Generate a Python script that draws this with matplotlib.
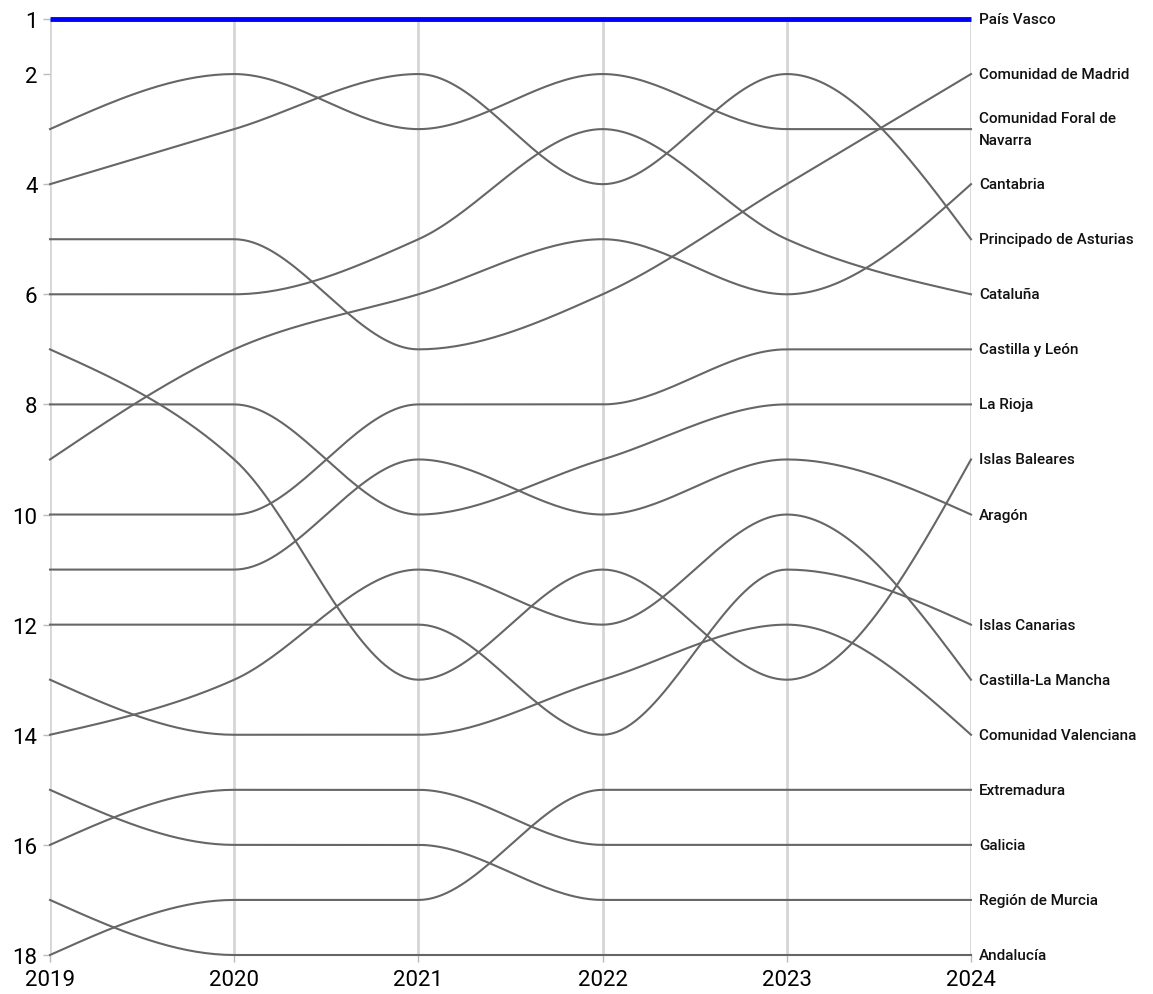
import matplotlib.pyplot as plt
import numpy as np

plt.rcParams['font.family'] = ['Roboto', 'DejaVu Sans']

# Años y posiciones en el ranking (1 = mejor)
years = [2019, 2020, 2021, 2022, 2023, 2024]

pais_vasco = [1, 1, 1, 1, 1, 1]
madrid = [5, 5, 7, 6, 4, 2]
navarra = [3, 2, 3, 2, 3, 3]
cantabria = [9, 7, 6, 5, 6, 4]
asturias = [4, 3, 2, 4, 2, 5]
cataluna = [6, 6, 5, 3, 5, 6]
castilla_leon = [10, 10, 8, 8, 7, 7]
la_rioja = [8, 8, 10, 9, 8, 8]
baleares = [7, 9, 13, 11, 13, 9]
aragon = [11, 11, 9, 10, 9, 10]
canarias = [12, 12, 12, 14, 11, 12]
castilla_mancha = [14, 13, 11, 12, 10, 13]
valenciana = [13, 14, 14, 13, 12, 14]
extremadura = [18, 17, 17, 15, 15, 15]
galicia = [16, 15, 15, 16, 16, 16]
murcia = [15, 16, 16, 17, 17, 17]
andalucia = [17, 18, 18, 18, 18, 18]

names = ['País Vasco', 'Comunidad de Madrid', 'Comunidad Foral de\nNavarra', 'Cantabria',
         'Principado de Asturias', 'Cataluña', 'Castilla y León', 'La Rioja', 'Islas Baleares',
         'Aragón', 'Islas Canarias', 'Castilla-La Mancha', 'Comunidad Valenciana',
         'Extremadura', 'Galicia', 'Región de Murcia', 'Andalucía']
series = [pais_vasco, madrid, navarra, cantabria, asturias, cataluna, castilla_leon, la_rioja,
          baleares, aragon, canarias, castilla_mancha, valenciana, extremadura, galicia,
          murcia, andalucia]


def monotone_x(x, y, steps=40):
    # curva monótona (como curveMonotoneX de d3)
    x = np.asarray(x, float)
    y = np.asarray(y, float)
    n = len(x)
    h = np.diff(x)
    s = np.diff(y) / h
    t = np.zeros(n)
    for i in range(1, n - 1):
        s0, s1 = s[i - 1], s[i]
        p = (s0 * h[i] + s1 * h[i - 1]) / (h[i - 1] + h[i])
        sg = (-1 if s0 < 0 else 1) + (-1 if s1 < 0 else 1)
        t[i] = sg * min(abs(s0), abs(s1), 0.5 * abs(p))
    t[0] = (3 * s[0] - t[1]) / 2
    t[-1] = (3 * s[-1] - t[-2]) / 2
    xs, ys = [], []
    u = np.linspace(0, 1, steps)
    for i in range(n - 1):
        dx = h[i] / 3
        p0 = (x[i], y[i])
        p1 = (x[i] + dx, y[i] + dx * t[i])
        p2 = (x[i + 1] - dx, y[i + 1] - dx * t[i + 1])
        p3 = (x[i + 1], y[i + 1])
        b = [(1 - u) ** 3, 3 * (1 - u) ** 2 * u, 3 * (1 - u) * u ** 2, u ** 3]
        xs.append(b[0] * p0[0] + b[1] * p1[0] + b[2] * p2[0] + b[3] * p3[0])
        ys.append(b[0] * p0[1] + b[1] * p1[1] + b[2] * p2[1] + b[3] * p3[1])
    return np.concatenate(xs), np.concatenate(ys)


fig = plt.figure(figsize=(11.53, 9.95), dpi=100)
ax = fig.add_axes([50 / 1153, 1 - 956 / 995, 921 / 1153, 936 / 995])

for name, ranks in zip(names, series):
    cx, cy = monotone_x(years, ranks)
    if name == 'País Vasco':
        ax.plot(cx, cy, color='#0000ff', lw=3.5, zorder=4, clip_on=False, solid_capstyle='butt')
    else:
        ax.plot(cx, cy, color='#666666', lw=1.5, zorder=3, clip_on=False)
    ls = 1.75 if '\n' in name else 1.2
    ax.annotate(name, xy=(years[-1], ranks[-1]), xytext=(6, 0), textcoords='offset points',
                ha='left', va='center', fontsize=11, fontweight='medium', color='#111111',
                linespacing=ls, annotation_clip=False)

ax.set_xlim(2019, 2024)
ax.set_ylim(18, 1)
ax.set_xticks(years)
ax.set_xticklabels([str(y) for y in years])
ax.set_yticks([1, 2, 4, 6, 8, 10, 12, 14, 16, 18])

ax.grid(axis='x', color='#d6d6d6', lw=2, zorder=1)
for sp in ax.spines.values():
    sp.set_visible(False)
ax.tick_params(axis='both', labelsize=16, labelcolor='#000000', length=5, width=1, color='#bbbbbb')
ax.tick_params(axis='x', pad=5)
ax.tick_params(axis='y', pad=4)

fig.savefig('out.png', dpi=100)
